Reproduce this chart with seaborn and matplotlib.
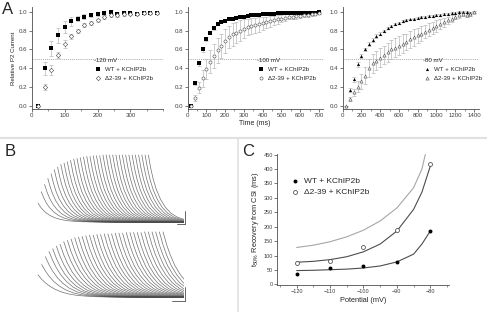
import numpy as np
import pandas as pd
import seaborn as sns
import matplotlib.pyplot as plt
from matplotlib.lines import Line2D
from matplotlib.ticker import MultipleLocator

# ---- panel A data (recovery from closed-state inactivation) ----
t120 = [20, 40, 60, 80, 100, 120, 140, 160, 180, 200, 220, 240, 260, 280, 300, 320, 340, 360, 380]
wt120 = [0.00, 0.40, 0.61, 0.75, 0.84, 0.90, 0.93, 0.95, 0.97, 0.98, 0.99, 1.00, 0.98, 0.99, 0.99, 0.98, 0.99, 0.99, 0.99]
wt120_err = [0.00, 0.07, 0.08, 0.08, 0.06, 0.05, 0.03, 0.03, 0.02, 0.02, 0.02, 0.02, 0.02, 0.01, 0.01, 0.01, 0.01, 0.01, 0.01]
d120 = [0.00, 0.20, 0.38, 0.54, 0.66, 0.74, 0.80, 0.86, 0.88, 0.91, 0.95, 0.97, 0.97, 0.98, 0.98, 0.98, 0.99, 0.99, 0.99]
d120_err = [0.00, 0.03, 0.05, 0.03, 0.04, 0.03, 0.02, 0.02, 0.02, 0.02, 0.02, 0.02, 0.02, 0.02, 0.01, 0.01, 0.01, 0.01, 0.01]

t100 = [20, 40, 60, 80, 100, 120, 140, 160, 180, 200, 220, 240, 260, 280, 300, 320, 340, 360,
        380, 400, 420, 440, 460, 480, 500, 520, 540, 560, 580, 600, 620, 640, 660, 680, 700]
wt100 = [0.00, 0.24, 0.45, 0.60, 0.71, 0.78, 0.83, 0.87, 0.89, 0.90, 0.92, 0.93, 0.94, 0.95, 0.95, 0.96, 0.97, 0.97,
         0.97, 0.98, 0.98, 0.98, 0.98, 0.99, 0.99, 0.99, 0.99, 0.99, 0.99, 0.99, 0.99, 0.99, 0.99, 0.99, 1.00]
wt100_err = [0.00, 0.02, 0.03, 0.03, 0.02, 0.02, 0.02, 0.01, 0.01, 0.01, 0.01, 0.01, 0.01, 0.01, 0.01, 0.01, 0.01, 0.01,
             0.01, 0.01, 0.01, 0.01, 0.01, 0.01, 0.01, 0.01, 0.01, 0.01, 0.01, 0.01, 0.01, 0.01, 0.01, 0.01, 0.01]
d100 = [0.00, 0.08, 0.19, 0.29, 0.39, 0.47, 0.53, 0.59, 0.64, 0.69, 0.73, 0.76, 0.78, 0.80, 0.82, 0.84, 0.85, 0.86,
        0.87, 0.88, 0.89, 0.90, 0.91, 0.92, 0.93, 0.94, 0.95, 0.95, 0.96, 0.96, 0.97, 0.97, 0.98, 0.98, 0.99]
d100_err = [0.00, 0.03, 0.06, 0.09, 0.11, 0.12, 0.13, 0.13, 0.13, 0.13, 0.12, 0.12, 0.11, 0.11, 0.10, 0.09, 0.09, 0.08,
            0.08, 0.07, 0.06, 0.06, 0.05, 0.05, 0.04, 0.04, 0.03, 0.03, 0.03, 0.02, 0.02, 0.02, 0.02, 0.01, 0.01]

t80 = [40, 80, 120, 160, 200, 240, 280, 320, 360, 400, 440, 480, 520, 560, 600, 640, 680, 720,
       760, 800, 840, 880, 920, 960, 1000, 1040, 1080, 1120, 1160, 1200, 1240, 1280, 1320, 1360, 1400]
wt80 = [0.00, 0.17, 0.28, 0.44, 0.53, 0.60, 0.66, 0.70, 0.74, 0.77, 0.80, 0.83, 0.85, 0.87, 0.88, 0.90, 0.91, 0.92,
        0.93, 0.94, 0.95, 0.95, 0.96, 0.96, 0.97, 0.97, 0.98, 0.98, 0.99, 0.99, 1.00, 1.00, 1.00, 0.99, 1.00]
wt80_err = [0.00, 0.02, 0.03, 0.03, 0.02, 0.02, 0.02, 0.02, 0.02, 0.02, 0.01, 0.01, 0.01, 0.01, 0.01, 0.01, 0.01, 0.01,
            0.01, 0.01, 0.01, 0.01, 0.01, 0.01, 0.01, 0.01, 0.01, 0.01, 0.01, 0.01, 0.01, 0.01, 0.01, 0.01, 0.01]
d80 = [0.00, 0.07, 0.14, 0.20, 0.26, 0.32, 0.40, 0.45, 0.48, 0.51, 0.54, 0.57, 0.60, 0.62, 0.64, 0.66, 0.68, 0.71,
       0.73, 0.75, 0.77, 0.79, 0.81, 0.83, 0.85, 0.87, 0.89, 0.91, 0.93, 0.95, 0.97, 0.98, 0.97, 0.98, 1.00]
d80_err = [0.00, 0.02, 0.04, 0.06, 0.08, 0.09, 0.10, 0.10, 0.10, 0.10, 0.10, 0.10, 0.10, 0.10, 0.10, 0.10, 0.09, 0.09,
           0.09, 0.08, 0.08, 0.07, 0.07, 0.06, 0.06, 0.05, 0.05, 0.04, 0.04, 0.03, 0.03, 0.02, 0.02, 0.02, 0.01]

# ---- panel B: P2 peak amplitudes of the current families (normalised) ----
b_top_peak = [0.28, 0.45, 0.56, 0.65, 0.72, 0.78, 0.82, 0.86, 0.88, 0.90, 0.92, 0.94, 0.95, 0.96, 0.97, 0.98, 0.98, 0.99,
              0.99, 0.99, 1.00, 1.00, 1.00, 1.00, 1.00, 1.00, 1.00, 1.00, 1.00, 1.00, 1.00, 1.00, 1.00, 1.00, 1.00]
b_bot_peak = [0.34, 0.50, 0.62, 0.70, 0.74, 0.78, 0.81, 0.85, 0.87, 0.89, 0.91, 0.92, 0.93, 0.94, 0.95, 0.95, 0.96, 0.96,
              0.97, 0.97, 0.97, 0.98, 0.98, 0.98, 0.99, 0.99, 0.99, 0.99, 0.99, 1.00, 1.00, 1.00, 1.00, 1.00, 1.00]
# decay of one trace after its peak (ms after peak, fraction of peak)
decay_ms_top = [0, 15, 30, 50, 75, 105, 140, 180, 225, 280, 350]
decay_frac_top = [1.00, 0.80, 0.64, 0.48, 0.34, 0.22, 0.13, 0.07, 0.035, 0.012, 0.00]
decay_ms_bot = [0, 20, 40, 65, 95, 130, 170, 215, 265, 320, 390]
decay_frac_bot = [1.00, 0.80, 0.64, 0.48, 0.34, 0.22, 0.13, 0.07, 0.035, 0.012, 0.00]

# ---- panel C data ----
volt = [-120, -110, -100, -90, -80]
t50_wt = [36, 57, 65, 77, 185]
t50_d = [75, 82, 128, 190, 418]
fit_v = [-120, -115, -110, -105, -100, -95, -90, -85, -82.5, -80]
fit_wt = [48, 49, 51, 53, 57, 64, 78, 105, 140, 185]
fit_d = [77, 80, 86, 96, 113, 140, 185, 260, 320, 410]
fit_gray_v = [-120, -115, -110, -105, -100, -95, -90, -85, -82.5, -81.5]
fit_gray = [128, 136, 148, 165, 188, 220, 265, 335, 400, 450]

lab_wt = 'WT + KChIP2b'
lab_d = '\u03942-39 + KChIP2b'

sns.set_style("ticks")
plt.rcParams['font.family'] = ['Liberation Sans', 'DejaVu Sans']
plt.rcParams['mathtext.default'] = 'regular'

W, H = 487, 312
fig = plt.figure(figsize=(W / 100, H / 100), dpi=100)


def add_ax(l, t, r, b):
    return fig.add_axes([l / W, 1 - b / H, (r - l) / W, (b - t) / H])


def style(ax, fs=4.4):
    sns.despine(ax=ax)
    for s in ['left', 'bottom']:
        ax.spines[s].set_linewidth(0.6)
        ax.spines[s].set_color('0.3')
    ax.tick_params(labelsize=fs, length=2, width=0.5, pad=1, colors='0.25')
    ax.tick_params(which='minor', length=1.2, width=0.4, colors='0.25')


# ---- panel A ----
panels = [
    ((31.7, 7.3, 163.3, 109.3), t120, wt120, wt120_err, d120, d120_err, 's', 'D', 400, 100, 50, '-120 mV', 0.473),
    ((187.5, 7.3, 322.8, 109.3), t100, wt100, wt100_err, d100, d100_err, 's', 'o', 720, 100, 50, '-100 mV', 0.511),
    ((342.7, 7.3, 478.7, 109.3), t80, wt80, wt80_err, d80, d80_err, '^', '^', 1450, 200, 100, '-80 mV', 0.588),
]
for i, (box, t, wt, wte, d, de, mw, md, xmax, maj, mnr, vlab, lx) in enumerate(panels):
    ax = add_ax(*box)
    ax.axhline(0.5, ls=(0, (1.5, 1.5)), color='0.55', lw=0.5, zorder=0)
    ax.errorbar(t, d, yerr=de, fmt='none', ecolor='0.72', elinewidth=0.5, capsize=1.3, capthick=0.5, zorder=1)
    ax.errorbar(t, wt, yerr=wte, fmt='none', ecolor='0.72', elinewidth=0.5, capsize=1.3, capthick=0.5, zorder=1)
    sns.scatterplot(x=t, y=wt, ax=ax, marker=mw, s=5, color='black', linewidth=0, label=lab_wt, zorder=3)
    sns.scatterplot(x=t, y=d, ax=ax, marker=md, s=5, color='white', edgecolor='0.35', linewidth=0.45,
                    label=lab_d, zorder=3)
    ax.set_xticks(np.arange(0, xmax - 19, maj))
    ax.xaxis.set_minor_locator(MultipleLocator(mnr))
    ax.set_xlim(0, xmax)
    ax.set_ylim(-0.04, 1.05)
    ax.yaxis.set_major_locator(MultipleLocator(0.2))
    ax.yaxis.set_major_formatter(plt.FormatStrFormatter('%.1f'))
    style(ax)
    ax.legend(title=vlab, loc='upper left', bbox_to_anchor=(lx, 0.50), frameon=False, fontsize=4.4,
              title_fontsize=4.4, handletextpad=0.5, borderpad=0, borderaxespad=0, labelspacing=0.55,
              handlelength=1.3, alignment='left')
    if i == 0:
        ax.set_ylabel('Relative P2 Current', fontsize=4.4, labelpad=2)
    ax.set_xlabel('')

fig.text(255 / W, 1 - 124 / H, 'Time (ms)', fontsize=5, ha='center', va='center')

# ---- panel B: current families ----
b_starts = [v + 30 for v in t100]
groups = [
    ((30, 150, 184, 226), 950, (-0.06, 1.075), b_top_peak, decay_ms_top, decay_frac_top),
    ((28.8, 228, 184, 302), 844, (-0.077, 1.06), b_bot_peak, decay_ms_bot, decay_frac_bot),
]
for box, xmax, ylim, peaks, dms, dfr in groups:
    ax = add_ax(*box)
    for st, pk in zip(b_starts, peaks):
        xs = [st + u for u in dms] + [xmax + 50]
        ys = [pk * f for f in dfr] + [0.0]
        ax.plot(xs, ys, color='0.3', lw=0.5, alpha=0.8)
    ax.set_xlim(0, xmax)
    ax.set_ylim(*ylim)
    ax.axis('off')

# scale bars
for (x, y0, y1, xh) in [(184.5, 211, 223.5, 177), (185, 287, 301, 172)]:
    fig.add_artist(Line2D([x / W, x / W], [1 - y0 / H, 1 - y1 / H], transform=fig.transFigure, color='0.3', lw=0.6))
    fig.add_artist(Line2D([xh / W, x / W], [1 - y1 / H, 1 - y1 / H], transform=fig.transFigure, color='0.3', lw=0.6))

# ---- panel C ----
ax = add_ax(277.3, 154, 449, 285)
sns.lineplot(x=fit_gray_v, y=fit_gray, ax=ax, color='0.65', lw=0.8, sort=False)
sns.lineplot(x=fit_v, y=fit_d, ax=ax, color='0.3', lw=0.8, sort=False)
sns.lineplot(x=fit_v, y=fit_wt, ax=ax, color='0.3', lw=0.8, sort=False)
sns.scatterplot(x=volt, y=t50_wt, ax=ax, marker='o', s=8, color='black', linewidth=0, label=lab_wt, zorder=3)
sns.scatterplot(x=volt, y=t50_d, ax=ax, marker='o', s=8, color='white', edgecolor='0.2', linewidth=0.5,
                label=lab_d, zorder=3)
ax.set_xticks([-120, -110, -100, -90, -80])
ax.xaxis.set_minor_locator(MultipleLocator(5))
ax.yaxis.set_major_locator(MultipleLocator(50))
ax.set_xlim(-125.8, -74.4)
ax.set_ylim(-2, 452)
style(ax, fs=4)
ax.set_xlabel('Potential (mV)', fontsize=5.3, labelpad=2)
ax.set_ylabel('t$_{50\\%}$ Recovery from CSI (ms)', fontsize=5.3, labelpad=2)
ax.legend(loc='upper left', bbox_to_anchor=(0.075, 0.82), frameon=False, fontsize=6, handletextpad=0.5,
          borderpad=0, borderaxespad=0, labelspacing=0.3, handlelength=1.2)

# panel letters and separators
fig.text(8 / W, 1 - 9 / H, 'A', fontsize=12, ha='center', va='center')
fig.text(10 / W, 1 - 151 / H, 'B', fontsize=12, ha='center', va='center')
fig.text(248 / W, 1 - 151 / H, 'C', fontsize=12, ha='center', va='center')
fig.add_artist(Line2D([0, 1], [1 - 138 / H, 1 - 138 / H], transform=fig.transFigure, color='0.88', lw=1.5))
fig.add_artist(Line2D([237.5 / W, 237.5 / W], [0, 1 - 138 / H], transform=fig.transFigure, color='0.88', lw=1.2))

fig.savefig('out.png', dpi=100)
